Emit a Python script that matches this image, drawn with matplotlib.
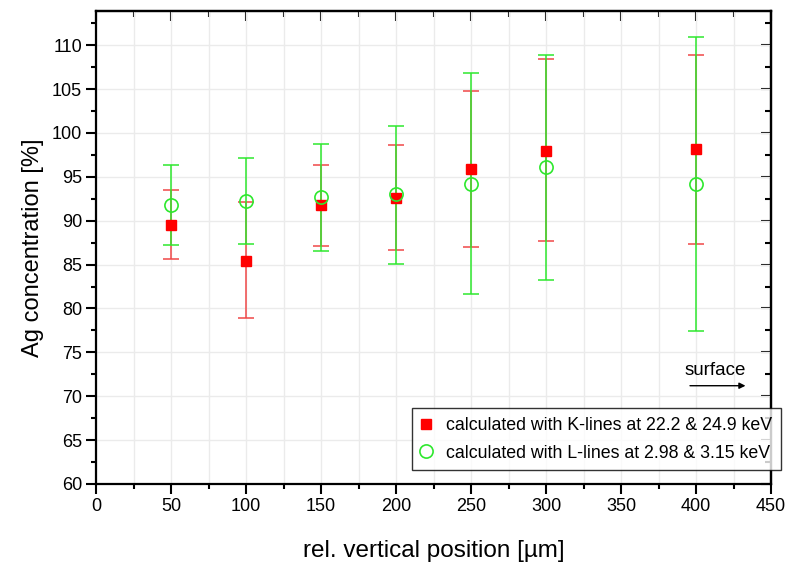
import matplotlib
matplotlib.use("Agg")
import matplotlib.pyplot as plt
from matplotlib.ticker import MultipleLocator
from matplotlib.lines import Line2D

plt.rcParams['font.family'] = ['Liberation Sans', 'DejaVu Sans']

# Vertical positions [µm]
positions = [50, 100, 150, 200, 250, 300, 400]

# Ag concentration from K-lines (22.2 & 24.9 keV)
k_values = [89.5, 85.4, 91.8, 92.6, 95.9, 98.0, 98.2]
k_lower = [85.6, 78.9, 87.1, 86.7, 87.0, 87.7, 87.4]
k_upper = [93.5, 92.1, 96.4, 98.6, 104.8, 108.4, 108.9]

# Ag concentration from L-lines (2.98 & 3.15 keV)
l_values = [91.8, 92.2, 92.7, 93.0, 94.2, 96.1, 94.2]
l_lower = [87.2, 87.4, 86.6, 85.1, 81.6, 83.3, 77.4]
l_upper = [96.4, 97.1, 98.8, 100.8, 106.8, 108.9, 110.9]

k_label = "calculated with K-lines at 22.2 & 24.9 keV"
l_label = "calculated with L-lines at 2.98 & 3.15 keV"

red = "#ff0000"
green = "#2ee82e"

fig = plt.figure(figsize=(8.11, 5.64), dpi=100)
ax = fig.add_axes([96 / 811, 1 - 484 / 564, 675 / 811, 473 / 564])

k_err = [[v - lo for v, lo in zip(k_values, k_lower)],
         [hi - v for v, hi in zip(k_values, k_upper)]]
l_err = [[v - lo for v, lo in zip(l_values, l_lower)],
         [hi - v for v, hi in zip(l_values, l_upper)]]

ax.errorbar(positions, k_values, yerr=k_err, fmt='none', ecolor="#f04848",
            elinewidth=1.1, capsize=6, capthick=1.1, zorder=3)
ax.errorbar(positions, l_values, yerr=l_err, fmt='none', ecolor=green,
            elinewidth=1.1, capsize=6, capthick=1.1, zorder=4)
ax.plot(positions, k_values, linestyle='none', marker='s', markersize=7.5,
        color=red, markeredgecolor=red, zorder=5)
ax.plot(positions, l_values, linestyle='none', marker='o', markersize=9.5,
        markerfacecolor='none', markeredgecolor=green, markeredgewidth=1.2, zorder=6)

ax.set_xlim(0, 450)
ax.set_ylim(60, 113.9)
ax.xaxis.set_major_locator(MultipleLocator(50))
ax.xaxis.set_minor_locator(MultipleLocator(25))
ax.yaxis.set_major_locator(MultipleLocator(5))
ax.yaxis.set_minor_locator(MultipleLocator(2.5))

# grid: every 25 µm vertically, every 5 % horizontally
ax.grid(which='both', axis='x', color='#ebebeb', linewidth=1.0, zorder=0)
ax.grid(which='major', axis='y', color='#ebebeb', linewidth=1.0, zorder=0)
ax.set_axisbelow(True)

for s in ax.spines.values():
    s.set_linewidth(1.6)

ax.tick_params(which='major', direction='out', length=7, width=1.5,
               labelsize=13, pad=3)
ax.tick_params(which='minor', direction='out', length=3.5, width=1.5)
ax.tick_params(which='both', top=False, right=False)

# inward ticks on top and right edges
ax_top = ax.secondary_xaxis('top')
ax_top.xaxis.set_major_locator(MultipleLocator(50))
ax_top.xaxis.set_minor_locator(MultipleLocator(25))
ax_top.tick_params(which='major', direction='in', length=7, width=1.5, labeltop=False)
ax_top.tick_params(which='minor', direction='in', length=4, width=1.5)
ax_top.spines['top'].set_linewidth(1.6)
ax_right = ax.secondary_yaxis('right')
ax_right.yaxis.set_major_locator(MultipleLocator(5))
ax_right.yaxis.set_minor_locator(MultipleLocator(2.5))
ax_right.tick_params(which='major', direction='in', length=7, width=1.5, labelright=False)
ax_right.tick_params(which='minor', direction='in', length=4, width=1.5)
ax_right.spines['right'].set_linewidth(1.6)

ax.set_xlabel("rel. vertical position [µm]", fontsize=17.5, labelpad=18)
ax.set_ylabel("Ag concentration [%]", fontsize=17, labelpad=6)

# surface direction marker
ax.text(412.5, 72.0, "surface", fontsize=13.5, ha='center', va='bottom')
ax.annotate("", xy=(433, 71.2), xytext=(396, 71.2),
            arrowprops=dict(arrowstyle='-|>', color='black', lw=1.0,
                            mutation_scale=9, shrinkA=0, shrinkB=0))

handles = [
    Line2D([], [], linestyle='none', marker='s', markersize=7.5, color=red),
    Line2D([], [], linestyle='none', marker='o', markersize=9.5,
           markerfacecolor='none', markeredgecolor=green, markeredgewidth=1.2),
]
leg = ax.legend(handles, [k_label, l_label], loc='upper right',
                bbox_to_anchor=(781 / 811, 1 - 408 / 564),
                bbox_transform=fig.transFigure, fontsize=12.8,
                frameon=True, fancybox=False, edgecolor='black',
                handlelength=0.6, handletextpad=0.8, borderpad=0.5,
                labelspacing=0.6, borderaxespad=0)
leg.get_frame().set_linewidth(1.0)
leg.set_zorder(10)

fig.savefig("out.png", dpi=100)
